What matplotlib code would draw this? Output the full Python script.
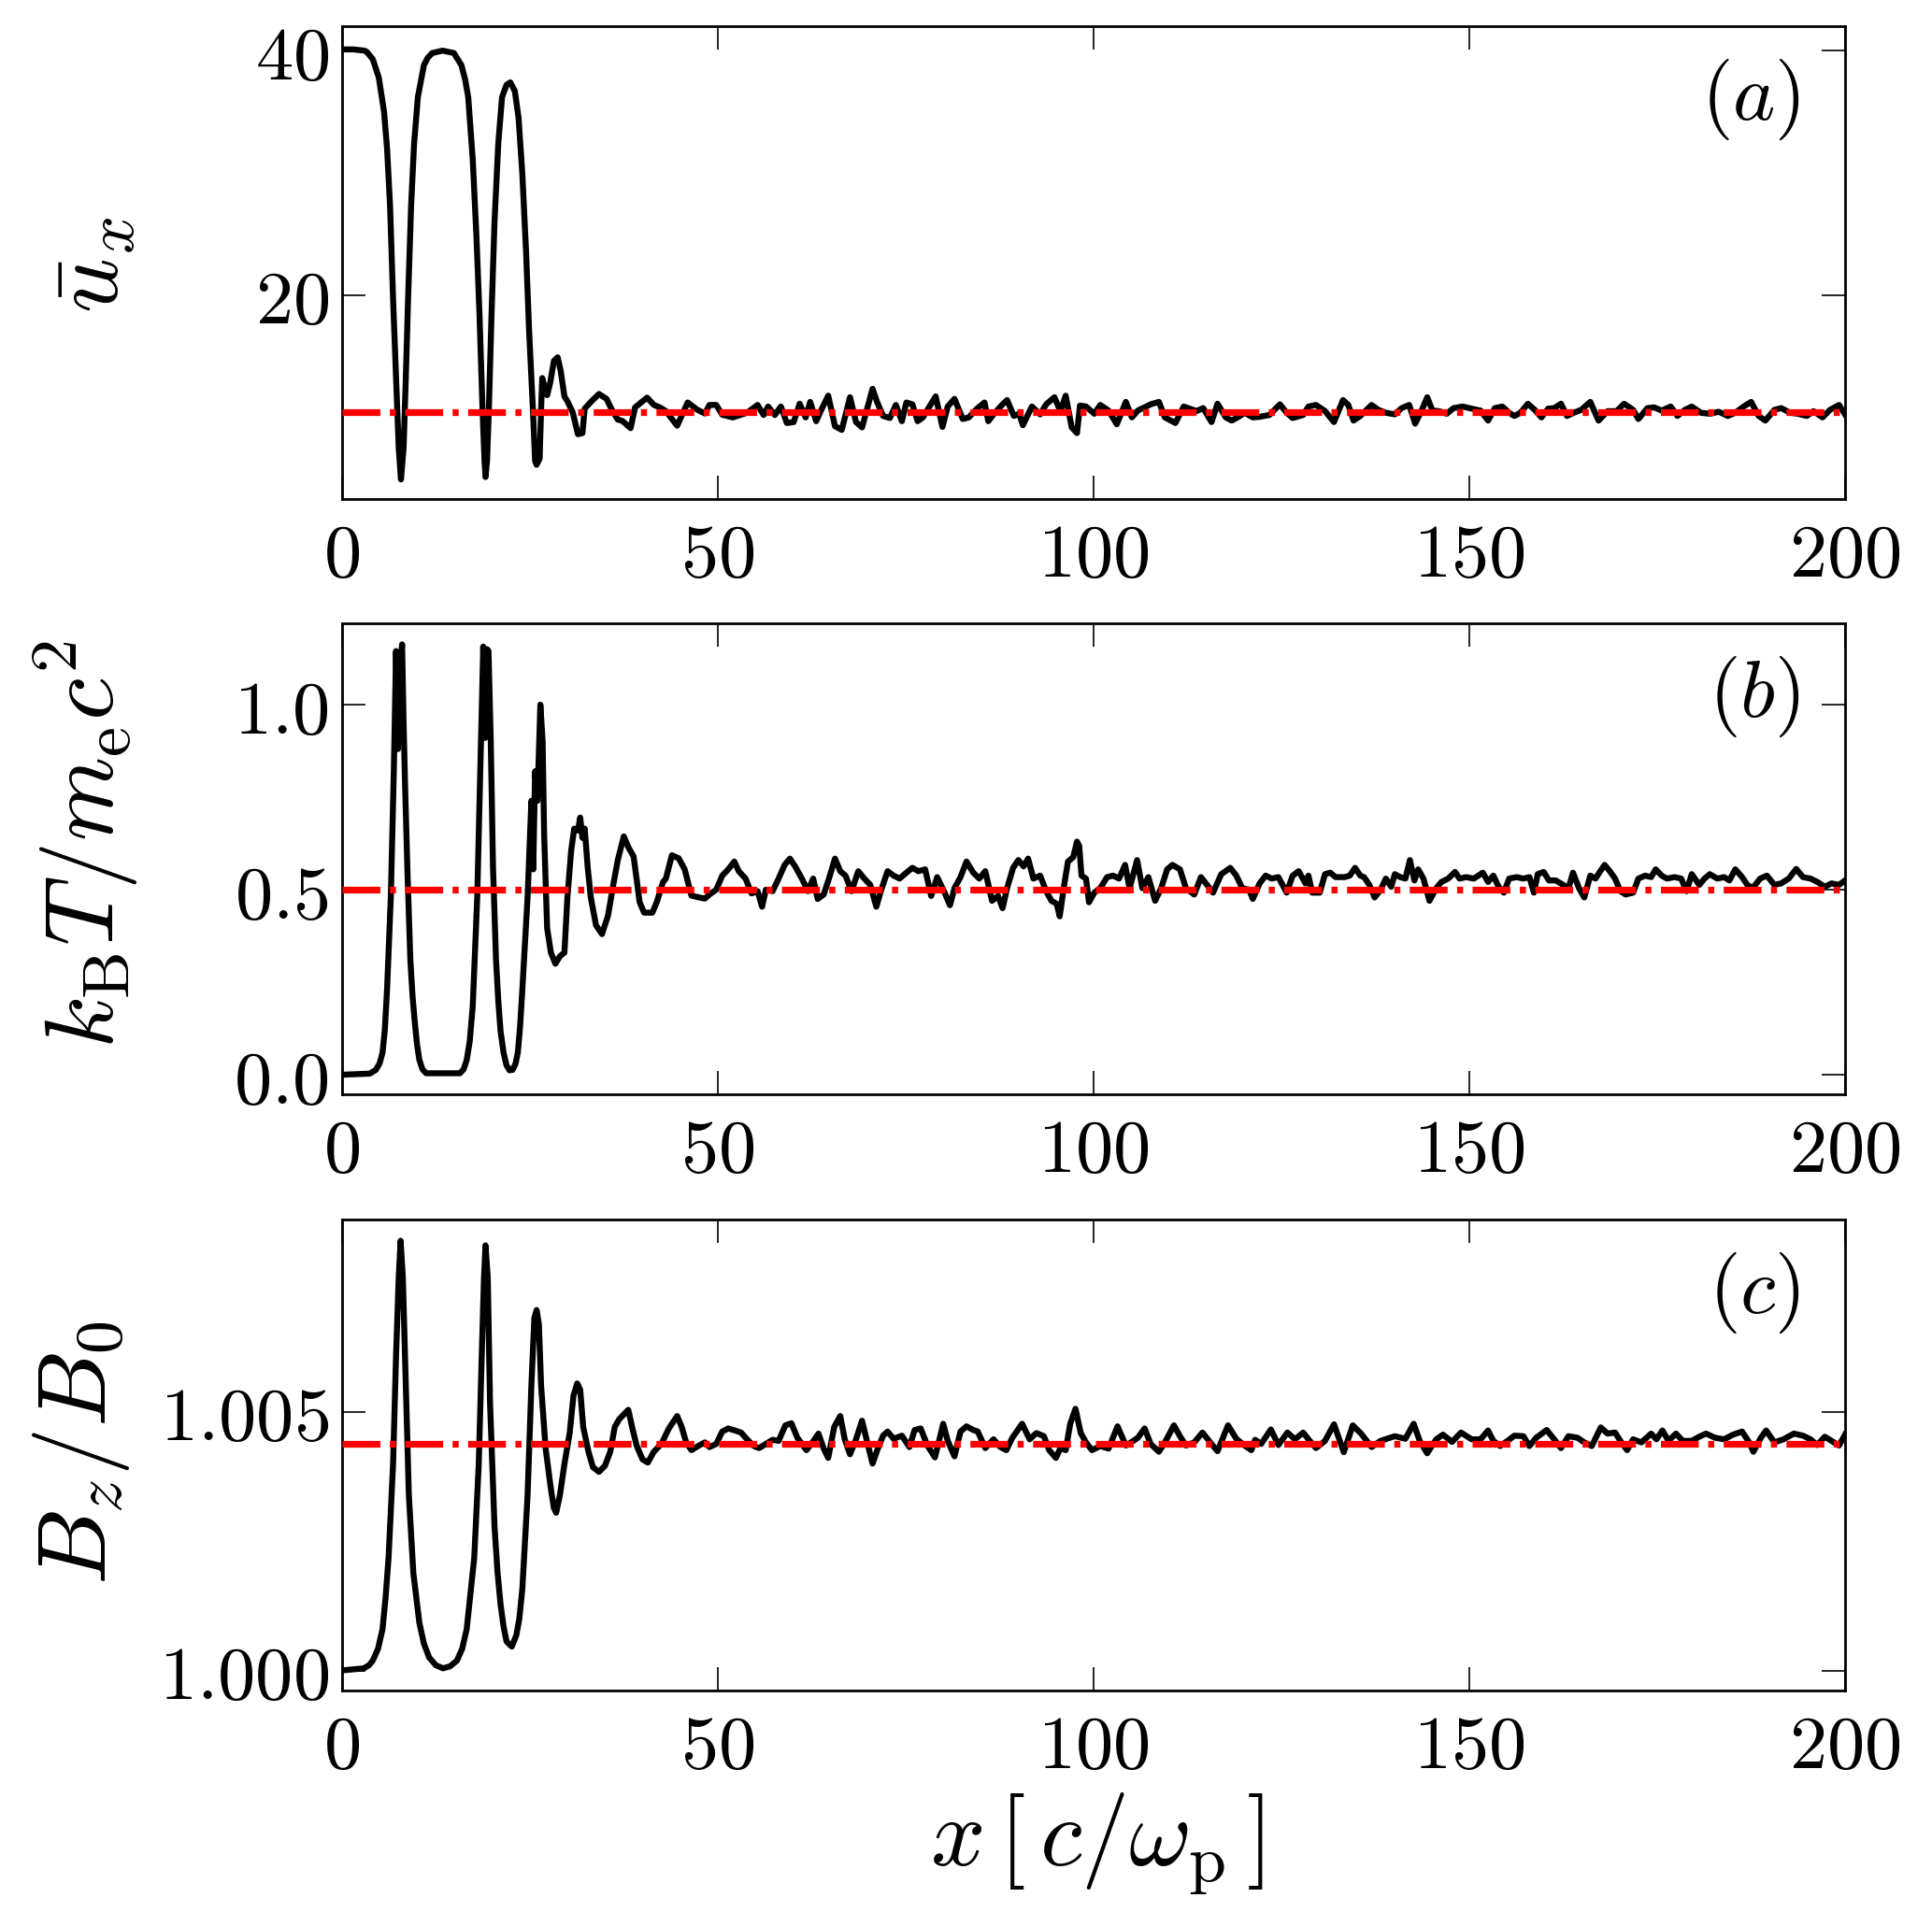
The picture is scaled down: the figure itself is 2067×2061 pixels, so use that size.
import matplotlib
matplotlib.use("Agg")
import matplotlib.pyplot as plt
from matplotlib.ticker import FixedLocator, FuncFormatter

plt.rcParams['mathtext.fontset'] = 'cm'
plt.rcParams['font.family'] = 'serif'
plt.rcParams['font.serif'] = ['DejaVu Serif']
plt.rcParams['axes.linewidth'] = 1.0

# (a) mean four-velocity u_x along x
ux_x = [0.0, 1.5, 3.0, 3.3, 4.1, 4.9, 5.6, 6.0, 6.4, 6.8, 7.2, 7.55, 7.85, 8.2, 8.5, 8.8,
        9.2, 9.6, 10.1, 10.9, 11.4, 12.0, 13.4, 14.9, 15.9, 16.4, 16.8, 17.4, 17.9, 18.3,
        18.7, 18.97, 19.1, 19.3, 19.55, 19.9, 20.3, 20.8, 21.3, 21.9, 22.4, 23.0, 23.5,
        24.0, 24.5, 24.9, 25.4, 25.7, 25.9, 26.3, 26.5, 26.65, 26.9, 27.3, 27.7, 28.2,
        28.7, 29.1, 29.6, 30.0, 30.7, 31.4, 32.0, 32.3, 33.2, 34.2, 35.2, 36.0, 36.7,
        37.3, 38.4, 39.0, 40.6, 41.5, 42.3, 43.1, 44.6, 46.0, 47.3, 48.3,
        48.9, 49.8, 50.6, 52.0, 53.9, 55.3, 56.1, 56.7, 57.6, 58.4, 59.2, 60.1, 60.9,
        61.7, 62.3, 63.1, 63.7, 64.7, 65.6, 66.5, 67.6, 68.4, 69.2, 70.6, 71.2, 72.0,
        72.9, 73.7, 74.5, 75.1, 75.9, 76.6, 77.3, 78.1, 79.0, 79.9, 80.6, 81.5, 82.6,
        83.4, 84.5, 85.5, 86.0, 86.7, 87.9, 88.5, 89.4, 90.1, 90.6, 91.8, 92.9, 93.7,
        94.8, 95.6, 96.3, 97.1, 97.8, 98.2, 99.0, 100.1, 100.9, 102.0, 103.1, 104.3,
        105.1, 105.9, 107.6, 108.7, 109.5, 110.9, 112.0, 113.7, 114.6, 115.7, 116.5,
        117.6, 118.4, 119.3, 120.1, 121.2, 122.1, 123.4, 124.8, 125.7, 126.5, 127.9,
        128.6, 129.6, 130.8, 132.0, 133.2, 133.9, 134.6, 135.5, 137.0, 137.9, 138.9,
        140.1, 141.0, 142.0, 142.8, 143.7, 144.4, 145.1, 146.0, 147.0, 147.9, 149.1,
        150.3, 151.5, 152.5, 153.4, 154.4, 155.3, 156.0, 156.8, 157.8, 158.7, 159.6,
        160.5, 161.3, 162.2, 163.0, 163.9, 164.9, 166.1, 167.2, 168.4, 169.6, 170.6,
        171.8, 172.5, 173.7, 174.6, 175.6, 176.8, 177.7, 178.7, 179.6, 180.8, 182.0,
        183.2, 184.4, 185.4, 186.5, 187.5, 188.5, 189.4, 190.6, 191.5, 192.7, 193.7,
        194.9, 195.8, 197.0, 198.0, 199.2, 200.0]
ux_y = [40.1, 40.1, 40.0, 39.9, 39.3, 37.8, 35.0, 32.0, 27.3, 19.7, 13.3, 7.5, 4.9, 7.5,
        13.3, 19.7, 27.3, 32.4, 36.2, 38.8, 39.4, 39.8, 40.0, 39.8, 38.8, 37.6, 36.2,
        31.1, 24.7, 18.4, 10.7, 6.4, 5.1, 6.4, 10.7, 18.4, 26.0, 32.4, 36.2, 37.2, 37.4,
        36.7, 34.5, 29.9, 23.5, 17.1, 10.7, 6.4, 6.1, 6.6, 10.7, 13.2, 12.6, 11.8, 12.8,
        14.6, 14.9, 13.8, 11.7, 11.3, 10.4, 8.6, 8.7, 10.7, 11.3, 11.9, 11.5, 10.5, 9.8,
        9.7, 9.1, 10.8, 11.6, 11.0, 10.8, 10.5, 9.3, 11.2, 10.6, 10.3,
        11.0, 11.0, 10.2, 9.98, 10.36, 11.0, 10.18, 10.87, 10.18, 10.87, 9.52, 9.6, 11.1,
        9.98, 11.25, 9.67, 10.5, 11.76, 9.26, 8.96, 11.63, 9.6, 9.16, 12.32, 11.25, 10.1,
        9.93, 11.0, 9.67, 11.2, 11.05, 9.67, 9.98, 10.8, 11.7, 9.2, 10.87, 11.5, 9.85,
        9.98, 10.7, 11.2, 9.67, 10.23, 11.05, 11.4, 10.1, 10.28, 9.34, 10.87, 10.23, 11.05,
        11.63, 10.49, 11.76, 9.16, 8.7, 10.95, 10.87, 10.28, 11.0, 10.54, 9.42, 11.25,
        9.98, 10.54, 11.05, 11.25, 9.98, 9.52, 10.87, 10.5, 10.74, 9.6, 11.1,
        9.98, 9.72, 10.03, 10.36, 9.98, 10.03, 10.18, 11.05, 10.36, 9.93, 10.18,
        10.87, 11.0, 10.5, 9.6, 11.4, 11.0, 9.72, 10.1, 11.0, 10.6, 10.36,
        10.23, 10.74, 11.0, 9.47, 10.6, 11.63, 10.54, 10.49, 10.28, 10.74, 10.87,
        10.7, 10.54, 9.72, 10.74, 10.87, 10.36, 10.1, 10.36, 11.1, 10.6, 9.98,
        10.7, 10.74, 11.1, 10.1, 10.36, 10.6, 11.25, 9.72, 10.49, 10.49, 11.1,
        10.6, 9.85, 10.74, 10.8, 10.54, 10.87, 10.1, 10.6, 10.87, 10.36, 10.28,
        10.44, 10.1, 10.36, 10.87, 11.25, 10.1, 9.72, 10.6, 10.74, 10.36, 10.28,
        10.1, 10.49, 9.98, 10.6, 11.0, 10.23]
ux_ref = 10.41

# (b) temperature k_B T / m_e c^2
temp_x = [0.0, 3.7, 4.5, 5.0, 5.4, 5.7, 6.0, 6.5, 6.9, 7.2, 7.45, 7.75, 8.0, 8.2, 8.4, 8.7,
          9.1, 9.4, 9.7, 10.0, 10.3, 10.7, 11.2, 15.7, 16.2, 16.6, 17.0, 17.4, 18.0, 18.4,
          18.8, 19.05, 19.3, 19.5, 19.8, 20.1, 20.5, 20.8, 21.1, 21.5, 21.9, 22.3, 22.7,
          23.1, 23.4, 23.7, 24.0, 24.7, 25.2, 25.45, 25.7, 26.0, 26.4, 26.7,
          26.9, 27.3, 27.8, 28.4, 29.0, 29.6, 30.0, 30.5, 30.9, 31.4, 31.7, 32.0, 32.3,
          32.7, 33.1, 33.8, 34.6, 35.4, 36.1, 36.7, 37.5, 38.1, 38.8, 39.2, 39.6, 40.2,
          41.3, 41.9, 42.7, 43.1, 43.9, 44.8, 45.6, 46.5, 47.3, 48.3,
          48.9, 49.8, 50.6, 51.4, 52.2, 52.8, 53.7, 54.5, 55.3, 55.9, 56.4, 57.3, 58.1,
          58.9, 59.6, 60.3, 61.2, 62.0, 62.7, 63.3, 64.1, 64.8, 65.6, 66.3, 67.0, 67.8,
          68.7, 69.5, 70.3, 71.1, 71.7, 72.6, 73.4, 74.2, 75.1, 75.9, 76.7, 77.6, 78.4,
          79.2, 80.1, 80.9, 81.5, 82.3, 83.1, 84.0, 84.8, 85.6, 86.5, 87.3, 87.9, 88.5,
          89.3, 90.0, 90.7, 91.3, 92.0, 92.9, 93.7, 94.4, 95.1, 95.5, 96.1, 96.6, 97.3,
          97.8, 98.1, 98.4, 99.0, 99.4, 100.1, 100.9, 101.8, 102.6, 103.4, 104.2, 104.8,
          105.8, 106.5, 107.3, 108.2, 109.0, 109.8, 110.5, 111.5, 112.3, 113.4, 114.3,
          115.1, 115.9, 117.0, 118.2, 119.0, 119.8, 120.7, 121.2, 122.1, 122.9, 123.7,
          124.6, 125.7, 126.5, 127.3, 128.2,
          128.6, 129.1, 130.1, 130.8, 131.5, 132.2, 133.4, 134.1, 134.8, 135.5, 136.0,
          136.7, 137.4, 138.2, 138.9, 139.6, 140.1, 140.8, 141.5, 142.1, 142.7, 143.2,
          143.9, 144.7, 145.6, 146.3, 147.2, 148.1, 148.7, 149.6, 150.6, 151.8, 152.5,
          153.2, 153.9, 154.6, 155.3, 156.3, 157.2, 158.0, 158.6, 159.1, 159.9, 160.6,
          161.5, 162.5, 163.2, 163.8, 164.6, 165.3, 166.1, 166.8, 167.3, 168.0, 168.7,
          169.4, 170.1, 170.8, 171.8, 172.5, 173.4, 174.2, 174.8, 175.6, 176.3, 177.3,
          178.2, 178.9, 179.6, 180.6, 181.3, 182.0, 183.0, 183.9, 184.6, 185.4, 186.3,
          187.0, 187.7, 188.7, 189.6, 190.6, 191.5, 192.5, 193.5, 194.4, 195.4, 196.3,
          197.3, 198.2, 199.2, 200.0]
temp_y = [0.0, 0.003, 0.013, 0.03, 0.06, 0.12, 0.23, 0.48, 0.82, 1.145, 0.88, 1.1, 1.163,
          0.95, 0.78, 0.56, 0.31, 0.21, 0.14, 0.08, 0.04, 0.015, 0.004, 0.004, 0.015, 0.04,
          0.09, 0.185, 0.48, 0.82, 1.157, 0.91, 1.15, 1.145, 0.9, 0.56, 0.31, 0.2, 0.118,
          0.06, 0.025, 0.012, 0.013, 0.03, 0.06, 0.13, 0.23, 0.48, 0.74, 0.555, 0.82,
          0.74, 1.0, 0.9, 0.65, 0.396, 0.33, 0.3, 0.32, 0.33, 0.48, 0.606, 0.665, 0.66,
          0.695, 0.64, 0.665, 0.56, 0.48, 0.404, 0.38, 0.43, 0.513, 0.58, 0.644, 0.615,
          0.59, 0.53, 0.467, 0.438, 0.438, 0.467, 0.52, 0.53, 0.593, 0.585, 0.555, 0.484,
          0.48, 0.476,
          0.487, 0.5, 0.538, 0.555, 0.576, 0.55, 0.53, 0.49, 0.496, 0.454, 0.5, 0.496, 0.53,
          0.567, 0.584, 0.563, 0.53, 0.496, 0.53, 0.475, 0.487, 0.53, 0.584, 0.55, 0.538,
          0.496, 0.55, 0.53, 0.513, 0.454, 0.496, 0.55, 0.538, 0.53, 0.546, 0.559, 0.55,
          0.555, 0.483, 0.534, 0.496, 0.458, 0.504, 0.534, 0.576, 0.546, 0.53, 0.55, 0.47,
          0.483, 0.45, 0.504, 0.559, 0.58, 0.563, 0.584, 0.53, 0.538, 0.496, 0.47, 0.462,
          0.428, 0.513, 0.576, 0.588, 0.63, 0.618, 0.538, 0.53, 0.466, 0.492, 0.504, 0.534,
          0.538, 0.53, 0.567, 0.504, 0.58, 0.504, 0.534, 0.47, 0.504, 0.555, 0.567, 0.555,
          0.504, 0.487, 0.534, 0.513, 0.492, 0.542, 0.559, 0.538, 0.504, 0.5, 0.475, 0.517,
          0.538, 0.53, 0.534, 0.492, 0.538, 0.55, 0.517,
          0.538, 0.492, 0.492, 0.542, 0.546, 0.534, 0.534, 0.538, 0.559, 0.538, 0.534,
          0.513, 0.479, 0.5, 0.53, 0.508, 0.542, 0.534, 0.53, 0.58, 0.525, 0.555, 0.53,
          0.47, 0.504, 0.521, 0.53, 0.548, 0.53, 0.534, 0.53, 0.546, 0.521, 0.538, 0.508,
          0.492, 0.53, 0.534, 0.53, 0.534, 0.492, 0.542, 0.548, 0.525, 0.525, 0.513, 0.504,
          0.546, 0.504, 0.479, 0.538, 0.53, 0.546, 0.567, 0.55, 0.53, 0.496, 0.487, 0.492,
          0.53, 0.538, 0.534, 0.555, 0.538, 0.53, 0.534, 0.53, 0.496, 0.542, 0.513, 0.53,
          0.542, 0.53, 0.534, 0.525, 0.555, 0.534, 0.513, 0.504, 0.53, 0.538, 0.513, 0.517,
          0.53, 0.556, 0.534, 0.53, 0.521, 0.508, 0.517, 0.513, 0.525]
temp_ref = 0.5

# (c) magnetic field B_z / B_0
bz_x = [0.0, 2.9, 3.6, 4.1, 4.8, 5.4, 5.8, 6.2, 6.8, 7.2, 7.55, 7.8, 8.1, 8.5, 8.9, 9.5,
        10.3, 10.9, 11.6, 12.5, 13.45, 14.4, 15.3, 16.0, 16.6, 17.6, 18.2, 18.6, 18.9,
        19.1, 19.4, 19.7, 20.3, 20.7, 21.1, 21.5, 21.9, 22.6, 23.2, 23.6,
        24.0, 24.7, 25.2, 25.6, 25.9, 26.2, 26.5, 27.1, 27.8, 28.2, 28.5, 29.0, 29.6,
        30.3, 30.8, 31.3, 31.7, 32.1, 32.8, 33.4, 34.2, 35.0, 35.7, 36.3, 36.9, 38.1,
        38.6, 39.2, 40.0, 40.7, 41.5, 42.5, 43.5, 44.6, 45.2, 45.8, 46.5, 47.5, 48.3,
        48.9, 49.8, 50.6, 51.4, 52.3, 53.1, 53.9, 54.8, 55.5, 56.4, 57.3, 58.1, 59.0,
        59.8, 60.6, 61.8, 62.6, 63.4, 64.1, 64.7, 65.5, 66.3, 66.9, 67.6, 68.4, 69.2,
        70.0, 70.6, 71.3, 72.0, 72.6, 73.4, 74.5, 75.5, 76.2, 77.0, 77.9, 78.9, 79.4,
        80.0, 80.6, 81.5, 82.3, 83.1, 84.0, 84.6, 85.6, 86.7, 87.6, 88.4, 89.2, 90.5,
        91.5, 92.4, 93.4, 94.1, 95.0, 95.6, 96.3, 96.9, 97.6, 98.3, 99.0, 99.8, 100.9,
        102.0, 103.2, 104.3, 105.1, 105.9, 106.8, 107.6, 108.7, 109.5, 110.7, 111.5,
        112.3, 113.4, 114.5, 115.7, 116.5, 117.9, 119.0, 120.1, 121.0, 121.5, 122.3,
        123.6, 124.6, 125.8, 126.8, 127.9,
        128.6, 129.6, 130.8, 132.0, 133.3, 134.5, 135.6, 137.0, 138.2, 140.1, 141.5,
        142.6, 143.4, 144.4, 145.6, 146.5, 147.7, 148.9, 150.3, 151.5, 152.5, 153.2,
        154.1, 155.1, 156.0, 157.2, 158.0, 158.9, 160.3, 161.3, 162.2, 163.2, 164.4,
        165.3, 166.3, 167.5, 168.4, 169.4, 170.1, 171.0, 171.8, 172.9, 174.2, 174.9,
        175.7, 176.5, 177.5, 178.4, 179.6, 180.6, 181.5, 182.7, 183.9, 185.1, 186.3,
        187.2, 187.8, 188.8, 189.5, 190.6, 191.8, 193.2, 194.4, 195.4, 196.3, 197.3,
        198.2, 199.2, 200.0]
bz_y = [1.0, 1.00004, 1.0001, 1.00019, 1.00042, 1.0008, 1.0014, 1.00218, 1.00399, 1.0061,
        1.0076, 1.00831, 1.0076, 1.0055, 1.00339, 1.00188, 1.00092, 1.00052, 1.00025,
        1.0001, 1.00004, 1.00008, 1.00019, 1.00042, 1.0008, 1.00218, 1.00399, 1.0061,
        1.0076, 1.00822, 1.0076, 1.00519, 1.00278, 1.0019, 1.00128, 1.00085, 1.00056,
        1.00046, 1.00068, 1.001,
        1.00158, 1.00339, 1.0055, 1.00682, 1.00697, 1.0067, 1.0055,
        1.00429, 1.00351, 1.00314, 1.00305, 1.00339, 1.00399, 1.00459, 1.00531, 1.00555,
        1.00543, 1.00471, 1.00423, 1.00393, 1.00384, 1.00396, 1.00423, 1.00471, 1.00486,
        1.00504, 1.00471, 1.00435, 1.00408, 1.00402, 1.00423, 1.00438, 1.00468, 1.00492,
        1.00471, 1.00441, 1.00426, 1.00435, 1.00441,
        1.00432, 1.00438, 1.00462, 1.00468, 1.00464, 1.0046, 1.00447, 1.00434, 1.0043,
        1.00438, 1.00446, 1.00444, 1.00474, 1.00478, 1.0045, 1.00426, 1.00441, 1.00458,
        1.00429, 1.00411, 1.00471, 1.00492, 1.00447, 1.00418, 1.00447, 1.00483, 1.00435,
        1.004, 1.00429, 1.00454, 1.00462, 1.00448, 1.00454, 1.00432, 1.00465, 1.00468,
        1.00435, 1.00412, 1.00441, 1.00477, 1.00444, 1.00414, 1.00462, 1.00472, 1.00465,
        1.00462, 1.0043, 1.00447, 1.00432, 1.00426, 1.0045, 1.00477, 1.00447, 1.00459,
        1.00453, 1.00426, 1.00411, 1.0043, 1.00426, 1.00477, 1.00506, 1.00459, 1.00441,
        1.00426, 1.00434, 1.00429, 1.00472, 1.00435, 1.00442, 1.0045, 1.00468, 1.00438,
        1.00423, 1.00441, 1.00474, 1.00453, 1.00435, 1.00441, 1.0046, 1.00438, 1.00424,
        1.00474, 1.00448, 1.00435, 1.00426, 1.00446, 1.00438, 1.00466, 1.00436, 1.0046,
        1.00447, 1.0046,
        1.00447, 1.0043, 1.00444, 1.00476, 1.00422, 1.00474, 1.00458, 1.00432, 1.00444,
        1.00453, 1.00448, 1.00477, 1.00444, 1.0042, 1.00447, 1.00456, 1.00442, 1.0046,
        1.00447, 1.00447, 1.00464, 1.00444, 1.00434, 1.00444, 1.00454, 1.00453, 1.00434,
        1.0045, 1.00465, 1.00447, 1.0043, 1.00453, 1.0045, 1.00441, 1.00434, 1.0047,
        1.00458, 1.0046, 1.00444, 1.00426, 1.00447, 1.00441, 1.00458, 1.00447, 1.00464,
        1.00444, 1.00458, 1.00444, 1.00444, 1.00452, 1.00458, 1.0045, 1.00447, 1.00456,
        1.00462, 1.00442, 1.00423, 1.0045, 1.00464, 1.00441, 1.00447, 1.00458, 1.00454,
        1.00447, 1.00436, 1.00452, 1.00444, 1.00435, 1.00456]
bz_ref = 1.00438

x_ticks = [0, 50, 100, 150, 200]

fig = plt.figure(figsize=(10.335, 10.305), dpi=200)

panels = [
    (ux_x, ux_y, ux_ref, (3.3, 42.0), [20, 40], '$%d$', r'$\bar{u}_x$', '$(a)$',
     [0.177, 0.7409, 0.778, 0.2455], 0.8627, 0.0478),
    (temp_x, temp_y, temp_ref, (-0.052, 1.22), [0.0, 0.5, 1.0], '$%.1f$',
     r'$k_{\rm B}T/m_{\rm e}c^2$', '$(b)$',
     [0.177, 0.432, 0.778, 0.2444], 0.5614, 0.044),
    (bz_x, bz_y, bz_ref, (0.99962, 1.00872), [1.000, 1.005], '$%.3f$',
     r'$B_z/B_0$', '$(c)$',
     [0.177, 0.1225, 0.778, 0.2443], 0.2455, 0.042),
]

for xs, ys, ref, ylim, yt, yfmt, ylab, tag, rect, ylab_y, ylab_x in panels:
    ax = fig.add_axes(rect)
    ax.plot(xs, ys, color='k', lw=2.3, zorder=2)
    ax.plot([0, 200], [ref, ref], color='red', lw=2.6, dashes=(5.6, 1.4, 0.9, 1.4),
            zorder=3)
    ax.set_xlim(0, 200)
    ax.set_ylim(*ylim)
    ax.xaxis.set_major_locator(FixedLocator(x_ticks))
    ax.xaxis.set_major_formatter(FuncFormatter(lambda v, p: '$%d$' % v))
    ax.yaxis.set_major_locator(FixedLocator(yt))
    ax.yaxis.set_major_formatter(FuncFormatter(lambda v, p, f=yfmt: f % v))
    ax.tick_params(direction='in', top=True, right=True, length=9, width=0.6,
                   labelsize=29)
    ax.tick_params(axis='x', pad=8)
    ax.tick_params(axis='y', pad=5)
    ax.text(0.97, 0.845, tag, transform=ax.transAxes, ha='right', va='center',
            fontsize=31)
    fig.text(ylab_x, ylab_y, ylab, rotation=90, ha='center', va='center', fontsize=37)

fig.text(0.5675, 0.0427, r'$x\,[\,c/\omega_{\rm p}\,]$', ha='center', va='center',
         fontsize=37)

fig.savefig('out.png', dpi=200)
